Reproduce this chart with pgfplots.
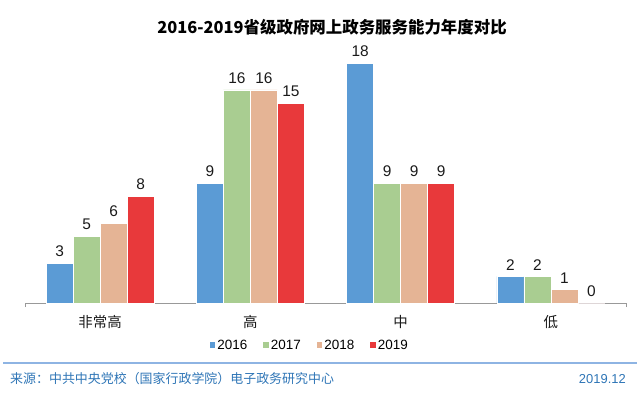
\documentclass[border=0pt]{standalone}
\usepackage{pgfplots}
\pgfplotsset{compat=1.18}
\usepackage{fontspec}
\setmainfont{Liberation Sans}
\newfontfamily\cjk{Noto Sans CJK SC}
\definecolor{c16}{HTML}{5B9BD5}
\definecolor{c17}{HTML}{A9CD91}
\definecolor{c18}{HTML}{E5B495}
\definecolor{c19}{HTML}{E8393B}
\definecolor{lineblue}{HTML}{8EB4E3}
\definecolor{srcblue}{HTML}{2E75B6}
\definecolor{txt}{HTML}{1A1A1A}
\begin{document}
\begin{tikzpicture}[x=1bp,y=1bp]
\path[use as bounding box] (0,0) rectangle (641,396);
\node[font=\cjk\bfseries\fontsize{16.5}{18}\selectfont, text=black] at (332,369) {2016-2019省级政府网上政务服务能力年度对比};
\begin{axis}[
  at={(25bp,93bp)}, anchor=south west, scale only axis,
  width=601bp, height=266.4bp,
  xmin=-0.5, xmax=3.5, ymin=0, ymax=20,
  ybar=0pt, bar width=27bp,
  /pgf/number format/assume math mode=true,
  axis x line*=bottom, axis y line=none,
  xtick={0,1,2,3}, xticklabels={非常高,高,中,低},
  major tick length=0pt,
  extra x ticks={-0.5,3.5}, extra x tick labels={},
  extra x tick style={major tick length=4bp, tick style={draw=gray!80, line width=0.8bp}},
  x axis line style={draw=gray!80, line width=0.8bp, -},
  xticklabel style={font=\cjk\fontsize{14.5}{16}\selectfont, inner sep=0pt, yshift=-12bp, text=txt},
  ytick=\empty,
  clip=false,
  nodes near coords,
  every node near coord/.append style={font=\fontsize{15.5}{17}\selectfont, inner sep=0pt, yshift=6bp, text=txt},
  legend style={at={(0.474,-0.158)}, anchor=center, draw=none, fill=none,
    legend columns=4, font=\fontsize{13.5}{15}\selectfont,
    /tikz/every even column/.append style={column sep=14bp}},
  legend image code/.code={\path[#1, draw=none] (0bp,-2.8bp) rectangle (5.6bp,2.8bp);},
]
\addplot[fill=c16, draw=white, line width=0.6bp] coordinates {(0,3) (1,9) (2,18) (3,2)};
\addplot[fill=c17, draw=white, line width=0.6bp] coordinates {(0,5) (1,16) (2,9) (3,2)};
\addplot[fill=c18, draw=white, line width=0.6bp] coordinates {(0,6) (1,16) (2,9) (3,1)};
\addplot[fill=c19, draw=white, line width=0.6bp] coordinates {(0,8) (1,15) (2,9) (3,0)};
\legend{2016,2017,2018,2019}
\end{axis}
\draw[color=lineblue, line width=1.5bp] (3,33) -- (637,33);
\node[anchor=west, text=srcblue, font=\cjk\fontsize{13}{15}\selectfont, inner sep=0pt] at (10,17) {来源：中共中央党校（国家行政学院）电子政务研究中心};
\node[anchor=east, text=srcblue, font=\fontsize{13}{15}\selectfont, inner sep=0pt] at (626,17) {2019.12};
\end{tikzpicture}
\end{document}
